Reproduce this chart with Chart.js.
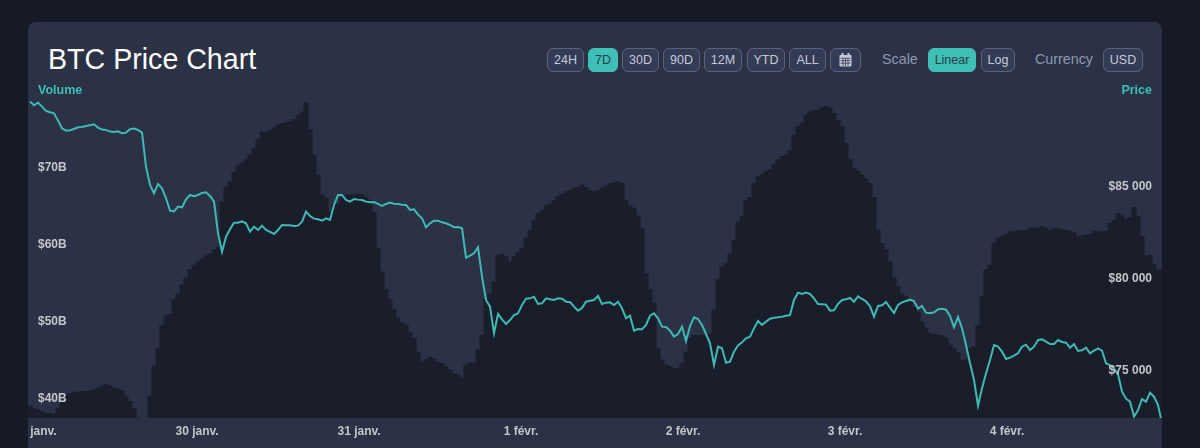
<!DOCTYPE html>
<html>
<head>
<meta charset="utf-8">
<title>BTC Price Chart</title>
<script src="https://cdn.jsdelivr.net/npm/chart.js@4"></script>
<style>
  html, body { margin: 0; height: 100%; background: #151a26; overflow: hidden; font-family: "Liberation Sans", Arial, sans-serif; }
  #card { position: absolute; left: 28px; top: 22px; width: 1134px; height: 440px; background: #2b3245; border-radius: 8px; }
  #chart { position: absolute; left: 28px; top: 90px; }
  h1 { position: absolute; left: 48px; top: 41px; margin: 0; font-size: 28.6px; line-height: 36px; font-weight: 400; color: #fff; }
  .btn { position: absolute; top: 48px; height: 22px; line-height: 22px; box-sizing: content-box; border: 1px solid #59627d; border-radius: 6px; background: #343c55; color: #c5cadb; font-size: 12.5px; text-align: center; }
  .btn.on { background: #3ebfb7; border-color: #3ebfb7; color: #2b3a4a; }
  .lbl { position: absolute; top: 51px; font-size: 14.3px; line-height: 17px; color: #8f98b2; }
  .axis-title { position: absolute; top: 83px; font-size: 12.5px; line-height: 15px; font-weight: 700; color: #3ebfb7; }
  svg { display: block; margin: 4px auto 0; }
</style>
</head>
<body>
<div id="card"></div>
<canvas id="chart" width="1134" height="358"></canvas>
<h1>BTC Price Chart</h1>
<div class="btn" style="left:547px;width:35px">24H</div>
<div class="btn on" style="left:588px;width:28px">7D</div>
<div class="btn" style="left:622px;width:35px">30D</div>
<div class="btn" style="left:663px;width:35px">90D</div>
<div class="btn" style="left:704px;width:36px">12M</div>
<div class="btn" style="left:747px;width:36px">YTD</div>
<div class="btn" style="left:789px;width:35px">ALL</div>
<div class="btn" style="left:830px;width:29px">
  <svg width="13" height="14" viewBox="0 0 13 14"><rect x="0.5" y="2" width="12" height="11.5" rx="1" fill="#c5cadb"/><rect x="2.5" y="0" width="2" height="3" fill="#c5cadb"/><rect x="8.5" y="0" width="2" height="3" fill="#c5cadb"/><path d="M1.5 5.2h10M1.5 7.7h10M1.5 10.2h10M4 5v8M6.5 5v8M9 5v8" stroke="#343c55" stroke-width="0.8"/></svg>
</div>
<div class="lbl" style="left:882px">Scale</div>
<div class="btn on" style="left:928px;width:46px">Linear</div>
<div class="btn" style="left:981px;width:32px">Log</div>
<div class="lbl" style="left:1035px">Currency</div>
<div class="btn" style="left:1103px;width:38px">USD</div>
<div class="axis-title" style="left:38px">Volume</div>
<div class="axis-title" style="right:48px">Price</div>

<script>
  // volume in $B, one bar per sample
  var volumeValues = [
    39.1, 38.8, 38.6, 38.3, 38.1, 38.1, 38.0, 38.8, 39.7, 40.5, 40.7, 40.9, 40.9, 41.0, 41.0, 41.0, 41.2, 41.4, 41.7, 41.9,
    41.7, 41.4, 41.3, 41.1, 40.4, 39.7, 38.8, 37.6, 37.4, 37.4, 40.4, 44.3, 46.6, 49.6, 50.8, 51.0, 52.9, 53.7, 54.8, 55.8,
    56.8, 57.4, 57.8, 58.2, 58.6, 58.9, 59.4, 59.7, 65.6, 67.5, 68.2, 69.4, 70.3, 70.6, 71.1, 71.7, 72.6, 73.7, 74.7, 74.6,
    74.9, 75.2, 75.6, 75.8, 75.9, 76.0, 76.3, 76.8, 77.3, 78.5, 75.0, 71.7, 69.1, 66.5, 66.1, 64.3, 65.3, 65.3, 66.1, 66.5,
    66.5, 66.5, 66.6, 66.5, 66.2, 65.8, 64.2, 59.6, 56.5, 54.2, 52.9, 51.6, 50.5,
    49.9, 49.6, 48.7, 47.9, 46.1, 44.8, 45.1, 45.4, 45.2, 44.8, 44.6, 44.2, 43.8, 43.3, 43.1, 42.7, 44.4, 44.7, 44.6, 46.4,
    48.3, 52.9, 53.7, 55.2, 58.7, 58.8, 58.5, 57.8, 58.5, 59.0, 59.6, 60.9, 61.9, 63.2, 64.1, 64.5, 65.1, 65.3, 65.8, 66.3,
    66.6, 66.9, 67.1, 67.4, 67.5, 67.8, 67.5, 67.1, 66.9, 67.1, 67.4, 67.7, 68.0, 68.1, 68.2, 68.0, 65.8, 65.1, 64.8, 63.8,
    62.1, 56.3, 54.2, 52.5, 46.6, 45.1, 44.4, 44.2, 43.9, 44.0, 44.6, 46.1, 47.9, 48.3, 48.2, 48.3, 48.1, 48.5, 51.6, 55.5,
    57.2, 57.6, 58.9, 60.6, 63.0, 63.7, 65.8, 66.2, 68.0, 68.9, 69.1, 69.5, 69.8, 70.4, 71.1, 71.5, 71.7, 72.3, 74.3, 75.4,
    75.8, 76.9, 77.3, 77.5, 77.5, 77.8, 78.0, 77.8, 77.1, 76.2, 75.4, 73.2, 71.1, 70.0, 69.6, 69.1, 68.6, 68.0, 66.2, 62.0,
    60.2, 59.4, 57.8, 55.8, 54.6, 53.7, 53.3, 52.6, 51.9, 51.3, 50.0, 49.2, 48.5, 48.4, 48.3, 48.2, 47.9, 47.0, 46.6, 46.0,
    45.0, 45.1, 46.6, 46.8, 49.6, 53.3, 56.8, 57.4, 60.2, 60.9, 61.1, 61.4, 61.7, 61.7, 61.9, 61.8, 61.9, 62.2, 62.2, 62.2,
    62.4, 62.2, 61.9, 62.1, 62.2, 62.0, 61.9, 61.8, 61.6, 61.1, 61.2, 61.3, 61.4, 61.8, 61.7, 61.7, 61.8, 62.8, 63.2, 64.1,
    63.8, 63.3, 63.6, 64.9, 63.7, 61.1, 58.6, 58.7, 57.5, 56.8, 56.8
  ];

  // BTC price in $, same samples as the volume
  var priceValues = [
    89641, 89442, 89587, 89369, 89134, 89061, 89007, 88608, 88191, 88065, 88083, 88155, 88246, 88264, 88318, 88354, 88409, 88228, 88119, 88101,
    88010, 87992, 88028, 87920, 87956, 88137, 88173, 88101, 87956, 86108, 85111, 84658, 85165, 84930, 84386, 83716, 83679, 83933, 83897, 84332,
    84567, 84495, 84567, 84676, 84712, 84513, 84205, 82484, 81487, 82302, 82701, 83063, 83063, 83136, 83027, 82574, 82846, 82665, 82900, 82665,
    82556, 82447, 82665, 82937, 82918, 82918, 82882, 82900, 83118, 83661, 83426, 83281, 83245, 83172, 83299, 83208, 84024, 84567, 84567, 84296,
    84205, 84350, 84314, 84296, 84205, 84169, 84187, 84078, 83969, 84078, 84151, 84096, 84078,
    84042, 84024, 83752, 83788, 83498, 83299, 82810, 83027, 83172, 83172, 83082, 83027, 82937, 82810, 82828, 82755, 81161, 81270, 81396, 81723,
    80128, 78860, 78497, 77048, 78099, 77809, 77555, 77772, 78044, 78135, 78588, 78932, 78950, 79041, 78642, 78678, 78950, 78896, 78860, 78950,
    78932, 78769, 78751, 78497, 78280, 78425, 78769, 78823, 78860, 79077, 78642, 78715, 78733, 78588, 78769, 78407, 77863, 78008, 77193, 77283,
    77265, 77501, 78008, 78135, 77863, 77410, 77392, 77193, 76866, 77011, 77410, 76631, 77446, 77917, 77827, 77501, 77011, 76504, 75326, 76323,
    76232, 75453, 75507, 76051, 76395, 76558, 76776, 76866, 77319, 77718, 77501, 77682, 77845, 77899, 77917, 77954, 78008, 78044, 78860, 79258,
    79186, 79258, 79186, 78950, 78642, 78624, 78606, 78280, 78298, 78642, 78860, 78896, 78968, 78769, 79059, 78914, 78787, 78515, 77954, 78533,
    78570, 78751, 78443, 78153, 78588, 78733, 78805, 78878, 78805, 78388, 78533, 78171, 78135, 78189, 78352, 78388, 78334, 77990, 77374, 77935,
    77319, 76413, 75417, 74511, 73116, 74058, 74873, 75598, 76413, 76323, 76051, 75652, 75725, 75834, 75960, 76323, 76431, 76142, 76323, 76685,
    76721, 76595, 76468, 76468, 76685, 76576, 76540, 76268, 76468, 76087, 76123, 76268, 75960, 76105, 76232, 76105, 75417, 75326, 75145, 74819,
    73877, 73496, 73333, 72518, 72880, 73478, 73333, 73822, 73605, 73152, 72155
  ];

  var volumeTicks = [40, 50, 60, 70];
  var priceTicks = [75000, 80000, 85000];
  var dayLabels = ["29 janv.", "30 janv.", "31 janv.", "1 févr.", "2 févr.", "3 févr.", "4 févr."];
  var dayHours = [0, 24, 48, 72, 96, 120, 144];

  // a sample is a bit over half an hour, the first one just before 29 janv.
  var sampleHours = volumeValues.map(function(v, i) {
    return (i - 1.25) * 168 / 283.5;
  });

  function points(values) {
    return values.map(function(v, i) {
      return { x: sampleHours[i], y: v };
    });
  }

  function setTicks(list) {
    return function(scale) {
      scale.ticks = list.map(function(v) {
        return { value: v };
      });
    };
  }

  // axes sit inside the plot, so they must not take any room from it
  function noMargins(scale) {
    scale.paddingLeft = 0;
    scale.paddingRight = 0;
    scale.paddingTop = 0;
    scale.paddingBottom = 0;
    if (scale.isHorizontal()) {
      scale.height = 30;
    } else {
      scale.width = 0;
    }
  }

  var tickFont = { family: "'Liberation Sans', Arial, sans-serif", size: 12, weight: "bold" };
  var tickColor = "#c4c5ca";

  new Chart(document.getElementById("chart").getContext("2d"), {
    type: "bar",
    data: {
      datasets: [
        {
          type: "line",
          label: "Price",
          data: points(priceValues),
          yAxisID: "price",
          borderColor: "#3fbab3",
          borderWidth: 2,
          pointRadius: 0,
          tension: 0,
          order: 0
        },
        {
          type: "bar",
          label: "Volume",
          data: points(volumeValues),
          yAxisID: "volume",
          backgroundColor: "#1a1d2a",
          borderWidth: 0,
          barThickness: 4.4,
          order: 1
        }
      ]
    },
    options: {
      responsive: false,
      animation: false,
      layout: { padding: 0 },
      plugins: { legend: { display: false }, tooltip: { enabled: false } },
      scales: {
        x: {
          type: "linear",
          offset: false,
          min: -1.04,
          max: 166.96,
          grid: { display: false, drawTicks: false },
          border: { display: false },
          afterBuildTicks: setTicks(dayHours),
          afterFit: noMargins,
          ticks: {
            autoSkip: false,
            maxRotation: 0,
            padding: 6,
            font: tickFont,
            color: tickColor,
            callback: function(v, i) {
              return dayLabels[i];
            }
          }
        },
        volume: {
          position: "left",
          min: 37.53,
          max: 80.13,
          grid: { display: false, drawTicks: false },
          border: { display: false },
          afterBuildTicks: setTicks(volumeTicks),
          afterFit: noMargins,
          ticks: {
            mirror: true,
            padding: 10,
            z: 1,
            font: tickFont,
            color: tickColor,
            callback: function(v) {
              return "$" + v + "B";
            }
          }
        },
        price: {
          position: "right",
          min: 72446,
          max: 90272,
          grid: { display: false, drawTicks: false },
          border: { display: false },
          afterBuildTicks: setTicks(priceTicks),
          afterFit: noMargins,
          ticks: {
            mirror: true,
            padding: -10,
            z: 1,
            font: tickFont,
            color: tickColor,
            callback: function(v) {
              return "$" + String(v).replace(/(\d{3})$/, " $1");
            }
          }
        }
      }
    }
  });
</script>
</body>
</html>
